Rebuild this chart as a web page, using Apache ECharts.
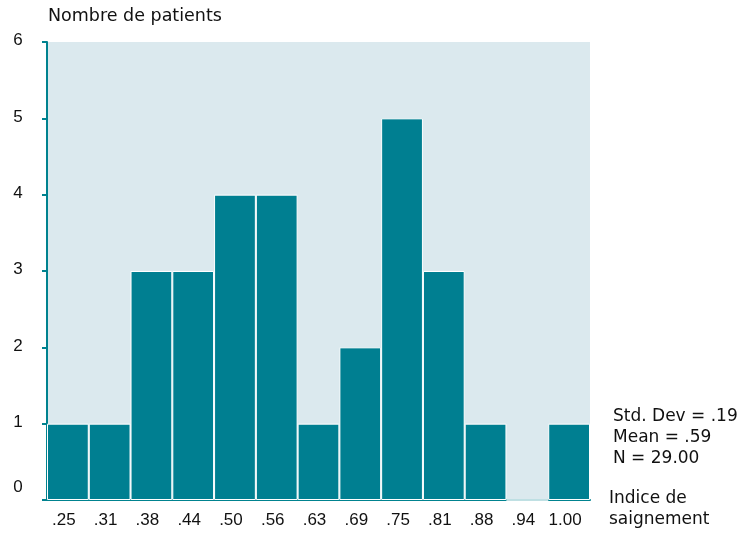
<!DOCTYPE html>
<html>
<head>
<meta charset="utf-8">
<script src="https://cdn.jsdelivr.net/npm/echarts@6/dist/echarts.min.js"></script>
<style>
  html, body { margin: 0; padding: 0; background: #fff; }
  #chart { width: 746px; height: 533px; }
</style>
</head>
<body>
<div id="chart"></div>
<script>
// histogram of bleeding index
const categories = ['.25', '.31', '.38', '.44', '.50', '.56', '.63', '.69', '.75', '.81', '.88', '.94', '1.00']
const patients = [1, 1, 3, 3, 4, 4, 1, 2, 5, 3, 1, 0, 1]
const statsLines = ['Std. Dev = .19', 'Mean = .59', 'N = 29.00']
const xTitleLines = ['Indice de', 'saignement']

const teal = '#007f91'
const axisColor = '#00828f'
const font = 'Liberation Sans'
const wideFont = 'DejaVu Sans'

const chart = echarts.init(document.getElementById('chart'))

const option = {
    animation: false,
    textStyle: {fontFamily: font},
    grid: {left: 47, right: 156, top: 42, bottom: 33, show: true, backgroundColor: '#dbe9ee', borderWidth: 0},
    xAxis: {
        type: 'category',
        data: categories,
        axisLine: {lineStyle: {color: axisColor, width: 2}},
        axisTick: {alignWithLabel: true, length: 6, lineStyle: {color: axisColor, width: 2}},
        axisLabel: {color: '#111', fontFamily: font, fontSize: 17, margin: 12, interval: 0, padding: [0, 8, 0, 0]}
    },
    yAxis: {
        type: 'value',
        min: 0,
        max: 6,
        interval: 1,
        splitLine: {show: false},
        axisLine: {show: true, lineStyle: {color: axisColor, width: 2}},
        axisTick: {show: true, length: 5, lineStyle: {color: axisColor, width: 2}},
        axisLabel: {
            color: '#111', fontFamily: font, fontSize: 17, margin: 29, align: 'center',
            formatter: (v) => v === 0 ? '{z|0}' : '{n|' + v + '}',
            rich: {
                z: {fontFamily: font, fontSize: 17, color: '#111', padding: [0, 0, 25, 0]},
                n: {fontFamily: font, fontSize: 17, color: '#111', padding: [0, 0, 3, 0]}
            }
        }
    },
    series: [{
        type: 'bar',
        barCategoryGap: 0,
        data: patients,
        itemStyle: {color: teal, borderColor: '#fff', borderWidth: 1}
    }],
    graphic: [
        {
            type: 'text', left: 48, top: 7,
            style: {text: 'Nombre de patients', font: '17.5px ' + wideFont, fill: '#111'}
        },
        {
            type: 'text', left: 613, top: 406,
            style: {text: statsLines.join('\n'), font: '17px ' + wideFont, fill: '#111', lineHeight: 21}
        },
        {
            type: 'text', left: 609, top: 488,
            style: {text: xTitleLines.join('\n'), font: '17px ' + wideFont, fill: '#111', lineHeight: 21}
        }
    ]
}

chart.setOption(option)
</script>
</body>
</html>
